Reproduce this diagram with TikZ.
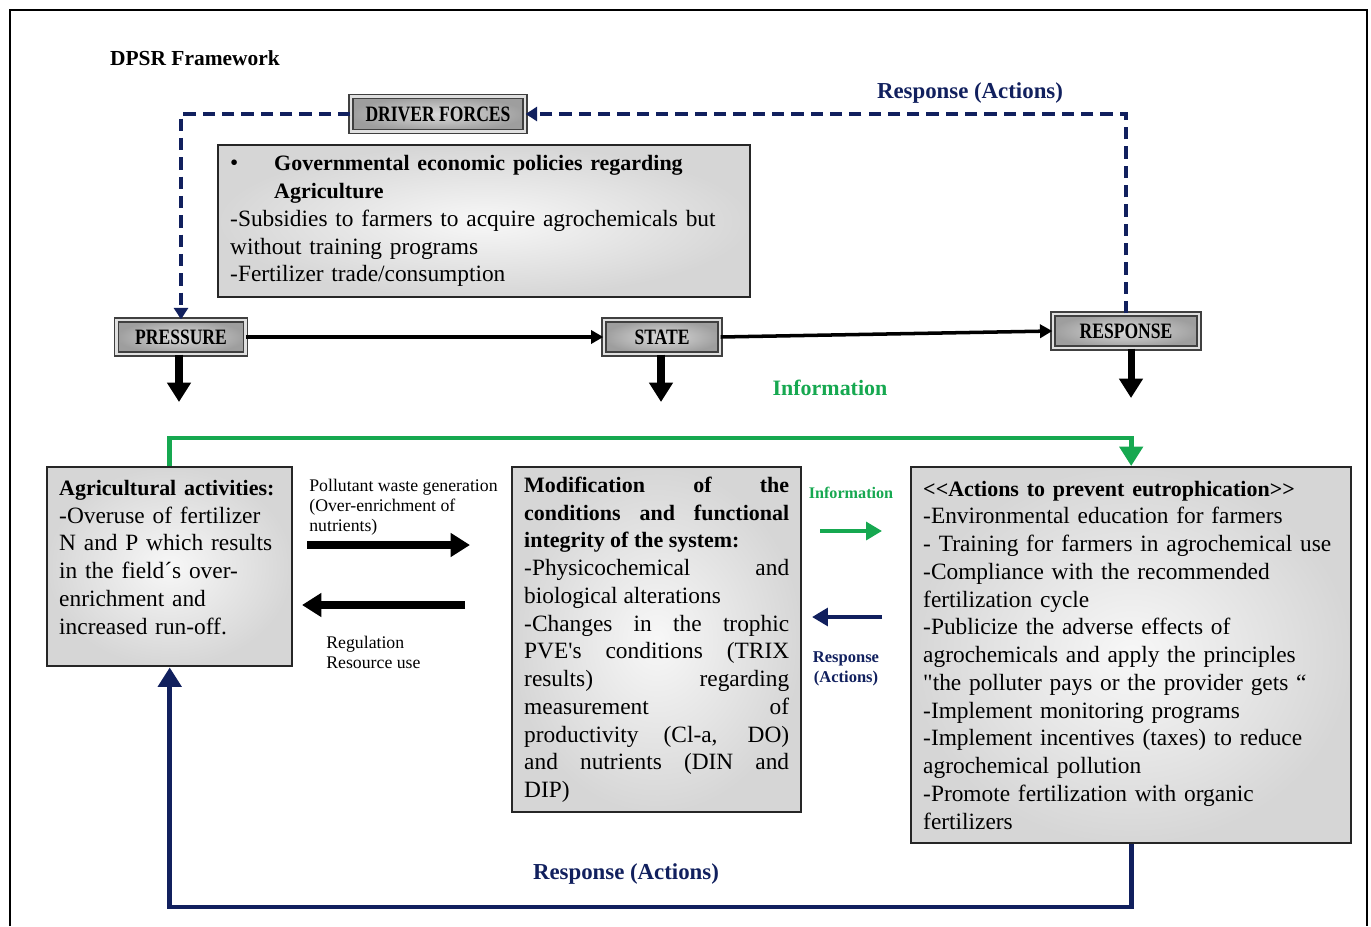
\documentclass[tikz,border=0pt]{standalone}
\usepackage{fontspec}
\setmainfont{Liberation Serif}[Ligatures=TeXOff]
\newfontfamily\headfont{Liberation Serif}[FakeStretch=0.8, Ligatures=TeXOff]
\usepackage{tikz}
\usetikzlibrary{positioning}
\usetikzlibrary{arrows.meta}
\usepackage{xcolor}
\setlength{\parindent}{0pt}

\definecolor{navyresp}{RGB}{17,32,94}
\definecolor{infogreen}{RGB}{22,168,80}

\newcommand{\bodysize}{\fontsize{13.3}{15.8}\selectfont}
\newcommand{\boldhead}[1]{{\fontsize{12.5}{15.8}\selectfont\bfseries #1}}

\tikzset{
  headbox/.style={draw=black!75, line width=0.8pt, double=black!12, double distance=1.4pt,
    inner color=black!14, outer color=black!38, text=black,
    font=\headfont\bfseries\fontsize{12.5}{14}\selectfont, inner sep=0pt},
  textbox/.style={draw=black!85, line width=1.4pt, inner color=black!3, outer color=black!16,
    font=\bodysize, align=left, anchor=north west, inner xsep=0.24cm, inner ysep=0pt},
  smalllabel/.style={font=\fontsize{10.1}{11.4}\selectfont, align=left, inner sep=0pt},
  thinarrow/.style={black, line width=2pt, -{Triangle[width=7.5pt,length=7pt]}},
  dashline/.style={navyresp, line width=2pt, dash pattern=on 7pt off 4pt,
    -{Triangle[width=8pt,length=6.5pt]}},
  blockarrow/.style={black, line width=4pt, -{Triangle[width=13pt,length=11pt]}},
  looparrow/.style={line width=2.8pt, -{Triangle[width=13pt,length=11pt]}},
  shortarrow/.style={line width=2.8pt, -{Triangle[width=10pt,length=9pt]}}
}

\begin{document}
\begin{tikzpicture}[x=0.02cm, y=-0.02cm]

\useasboundingbox (0,0) rectangle (1371,926);
\draw[black, line width=0.8pt] (10,926)--(10,10)--(1367,10)--(1367,926);

\node at (195,58) [font=\fontsize{12.2}{14}\selectfont\bfseries] (title) {DPSR Framework};

% DPSR boxes
{
\node[headbox] (driver) at (438,114) [minimum width=3.48cm, minimum height=0.7cm] {DRIVER FORCES};
\node[headbox] (press) at (181,337) [minimum width=2.58cm, minimum height=0.68cm] {PRESSURE};
\node[headbox] (state) at (662,337) [minimum width=2.32cm, minimum height=0.68cm] {STATE};
\node[headbox] (resp) at (1126,331) [minimum width=2.92cm, minimum height=0.68cm] {RESPONSE};
}

% text boxes
{
\node[textbox] (drvtext) at (217,144) [text width=10.16cm, minimum height=3.04cm]
{\makebox[0.88cm][l]{•}\boldhead{Governmental economic policies regarding}\\
\hspace*{0.88cm}\boldhead{Agriculture}\\
-Subsidies to farmers to acquire agrochemicals but\\
without training programs\\
-Fertilizer trade/consumption};

\node[textbox] (agri) at (46,466) [text width=4.42cm, minimum height=3.98cm]
{\boldhead{Agricultural activities:}\\
-Overuse of fertilizer\\
N and P which results\\
in the field´s over-\\
enrichment and\\
increased run-off.\\[-5pt]\mbox{}};

\node[textbox] (modif) at (511,466) [text width=5.3cm, minimum height=6.9cm, align=justify]
{\boldhead{Modification of the\linebreak
conditions and functional\linebreak
integrity of the system:}\\
-Physicochemical and\linebreak
biological alterations\\
-Changes in the trophic\linebreak
PVE's conditions (TRIX\linebreak
results) regarding\linebreak
measurement of\linebreak
productivity (Cl-a, DO)\linebreak
and nutrients (DIN and\linebreak
DIP)};

\node[textbox] (act) at (910,466) [text width=8.32cm, minimum height=7.52cm]
{\boldhead{<<Actions to prevent eutrophication>>}\\
-Environmental education for farmers\\
- Training for farmers in agrochemical use\\
-Compliance with the recommended\\
fertilization cycle\\
-Publicize the adverse effects of\\
agrochemicals and apply the principles\\
"the polluter pays or the provider gets “\\
-Implement monitoring programs\\
-Implement incentives (taxes) to reduce\\
agrochemical pollution\\
-Promote fertilization with organic\\
fertilizers};
}

% arrows
{
\draw[dashline] (resp.north) |- (driver.east);
\draw[dashline] (driver.west) -| (press.north);

\draw[thinarrow] (press.east) -- (state.west);
\draw[thinarrow] (state.east) -- (resp.west);

\coordinate (pressout) at (179,402);
\coordinate (stateout) at (661,402);
\coordinate (respout) at (1131,398);
\draw[blockarrow] (press.south -| pressout) -- (pressout);
\draw[blockarrow] (state.south -| stateout) -- (stateout);
\draw[blockarrow] (resp.south -| respout) -- (respout);

\coordinate (infotop) at (0,438);
\coordinate (respbot) at (0,907);
\draw[looparrow, infogreen] (agri.north) -- (agri.north |- infotop) -| (act.north);
\draw[looparrow, navyresp] (act.south) -- (act.south |- respbot) -| (agri.south);

\coordinate (wasteA) at (307,545);
\coordinate (wasteB) at (470,545);
\coordinate (reguA) at (465,605);
\coordinate (reguB) at (302,605);
\draw[blockarrow] (wasteA) -- (wasteB);
\draw[blockarrow] (reguA) -- (reguB);

\coordinate (infoA) at (820,531);
\coordinate (infoB) at (882,531);
\coordinate (actA) at (882,617);
\coordinate (actB) at (812,617);
\draw[shortarrow, infogreen] (infoA) -- (infoB);
\draw[shortarrow, navyresp] (actA) -- (actB);
}

% labellings
{
\node[smalllabel, anchor=north west] (waste) at (309,479)
{Pollutant waste generation\\(Over-enrichment of\\nutrients)};
\node[smalllabel, anchor=north west] (regu) at (326,636)
{Regulation\\Resource use};

\node at (851,493) [font=\fontsize{9.2}{11.4}\selectfont\bfseries, text=infogreen] (infosmall) {Information};
\node at (846,669) [font=\fontsize{9.4}{11.4}\selectfont\bfseries, text=navyresp, align=center] (respsmall) {Response\\(Actions)};

\node at (830,388) [font=\fontsize{12.5}{14}\selectfont\bfseries, text=infogreen] (infobig) {Information};
\node at (970,93) [font=\fontsize{13}{15}\selectfont\bfseries, text=navyresp] (resptop) {Response (Actions)};
\node at (626,874) [font=\fontsize{13}{15}\selectfont\bfseries, text=navyresp] (respbottom) {Response (Actions)};
}

\end{tikzpicture}
\end{document}
